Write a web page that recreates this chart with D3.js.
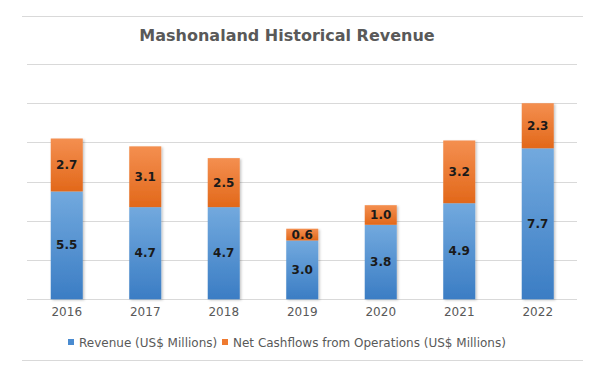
<!DOCTYPE html>
<html>
<head>
<meta charset="utf-8">
<script src="https://cdn.jsdelivr.net/npm/d3@7"></script>
<style>
  html, body { margin: 0; padding: 0; background: #fff; }
  svg { display: block; font-family: "DejaVu Sans", sans-serif; }
</style>
</head>
<body>
<svg id="chart" width="613" height="383"></svg>
<script>
const title = "Mashonaland Historical Revenue";
const years = ["2016", "2017", "2018", "2019", "2020", "2021", "2022"];
const revenue = [5.5, 4.7, 4.7, 3.0, 3.8, 4.9, 7.7];
const cashflow = [2.7, 3.1, 2.5, 0.6, 1.0, 3.2, 2.3];
const seriesNames = ["Revenue (US$ Millions)", "Net Cashflows from Operations (US$ Millions)"];
const yTicks = [0, 2, 4, 6, 8, 10, 12];

const svg = d3.select("#chart");
const plot = { left: 27.5, right: 577, top: 64, bottom: 299.3 };

const defs = svg.append("defs");
const grads = [
  { id: "gBlue", top: "#72a9de", bottom: "#3b7dc4" },
  { id: "gOrange", top: "#f48f50", bottom: "#e2681a" }
];
grads.forEach(g => {
  const lg = defs.append("linearGradient").attr("id", g.id)
    .attr("x1", 0).attr("y1", 0).attr("x2", 0).attr("y2", 1);
  lg.append("stop").attr("offset", "0%").attr("stop-color", g.top);
  lg.append("stop").attr("offset", "100%").attr("stop-color", g.bottom);
});
const f = defs.append("filter").attr("id", "shadow")
  .attr("x", "-20%").attr("y", "-10%").attr("width", "150%").attr("height", "130%");
f.append("feDropShadow").attr("dx", 1.5).attr("dy", 1).attr("stdDeviation", 1.2)
  .attr("flood-color", "#000").attr("flood-opacity", 0.22);

// border lines
svg.append("line").attr("x1", 22).attr("x2", 583).attr("y1", 16.5).attr("y2", 16.5)
  .attr("stroke", "#d9d9d9").attr("stroke-width", 1);
svg.append("line").attr("x1", 22).attr("x2", 583).attr("y1", 360.5).attr("y2", 360.5)
  .attr("stroke", "#d9d9d9").attr("stroke-width", 1);

// title
svg.append("text").attr("x", 287).attr("y", 41).attr("text-anchor", "middle")
  .attr("font-size", 16).attr("font-weight", "bold").attr("fill", "#595959").text(title);

const x = d3.scaleBand().domain(years).range([plot.left, plot.right])
  .paddingInner(0.592).paddingOuter(0.296);
const y = d3.scaleLinear().domain([0, 12]).range([plot.bottom, plot.top]);

// gridlines
svg.append("g").selectAll("line").data(yTicks).join("line")
  .attr("x1", 27).attr("x2", 577)
  .attr("y1", d => Math.round(y(d)) + 0.5).attr("y2", d => Math.round(y(d)) + 0.5)
  .attr("stroke", "#d9d9d9").attr("stroke-width", 1);

const data = years.map((yr, i) => ({ year: yr, rev: revenue[i], cf: cashflow[i] }));

const bars = svg.append("g").attr("filter", "url(#shadow)");
bars.selectAll("rect.rev").data(data).join("rect").attr("class", "rev")
  .attr("x", d => x(d.year)).attr("width", x.bandwidth())
  .attr("y", d => y(d.rev)).attr("height", d => y(0) - y(d.rev))
  .attr("fill", "url(#gBlue)");
bars.selectAll("rect.cf").data(data).join("rect").attr("class", "cf")
  .attr("x", d => x(d.year)).attr("width", x.bandwidth())
  .attr("y", d => y(d.rev + d.cf)).attr("height", d => y(d.rev) - y(d.rev + d.cf))
  .attr("fill", "url(#gOrange)");

// labels
const lab = svg.append("g").attr("font-size", 12).attr("font-weight", "bold")
  .attr("fill", "#1a1a1a").attr("text-anchor", "middle").attr("dominant-baseline", "central");
lab.selectAll("text.rev").data(data).join("text").attr("class", "rev")
  .attr("x", d => x(d.year) + x.bandwidth() / 2)
  .attr("y", d => (y(0) + y(d.rev)) / 2)
  .text(d => d.rev.toFixed(1));
lab.selectAll("text.cf").data(data).join("text").attr("class", "cf")
  .attr("x", d => x(d.year) + x.bandwidth() / 2)
  .attr("y", d => (y(d.rev) + y(d.rev + d.cf)) / 2)
  .text(d => d.cf.toFixed(1));

// x axis
const xAxis = svg.append("g").attr("transform", `translate(0,${Math.round(plot.bottom) + 0.5})`)
  .call(d3.axisBottom(x).tickSize(0).tickPadding(8));
xAxis.select(".domain").remove();
xAxis.selectAll("text").attr("font-size", 12).attr("fill", "#595959")
  .attr("font-family", "DejaVu Sans, sans-serif");

// legend
const legend = svg.append("g").attr("font-size", 12).attr("fill", "#595959");
const colors = ["#4a8bd0", "#ef7a30"];
const lx = [68, 222];
seriesNames.forEach((n, i) => {
  legend.append("rect").attr("x", lx[i]).attr("y", 339).attr("width", 6).attr("height", 6)
    .attr("fill", colors[i]);
  legend.append("text").attr("x", lx[i] + 11).attr("y", 342.5).attr("dominant-baseline", "central")
    .text(n);
});
</script>
</body>
</html>
